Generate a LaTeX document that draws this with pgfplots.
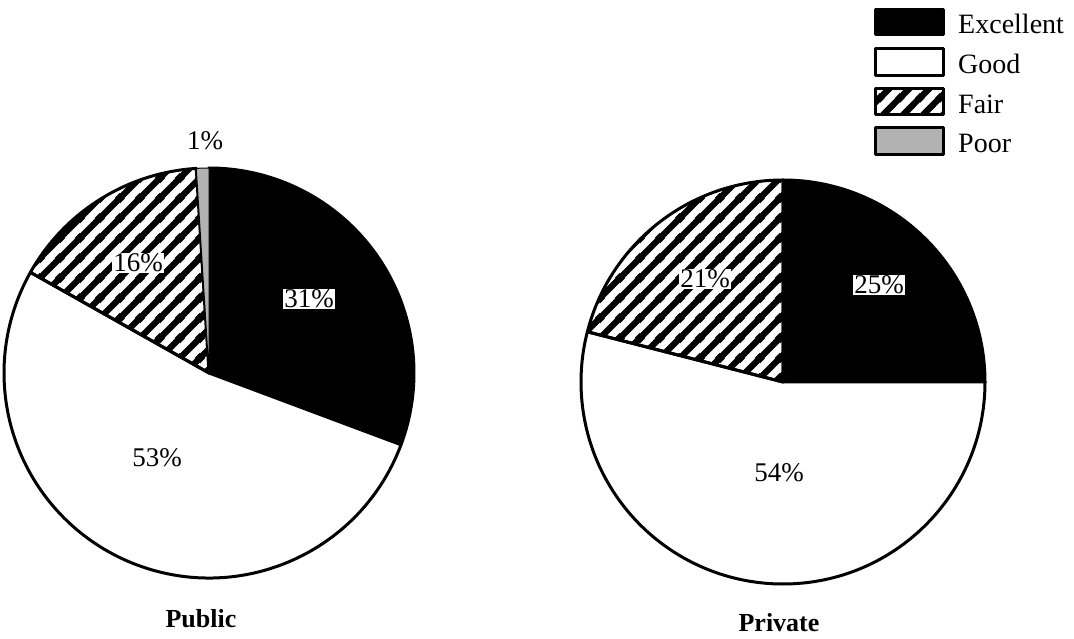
\documentclass[border=0pt]{standalone}
\usepackage{pgfplots}
\pgfplotsset{compat=1.18}
\usepackage{fontspec}
\setmainfont{Liberation Serif}
\usetikzlibrary{patterns,patterns.meta}
\tikzdeclarepattern{
  name=bighatch,
  type=uncolored,
  bounding box={(0pt,0pt) and (20pt,20pt)},
  tile size={(20pt,20pt)},
  code={
    \pgfsetlinewidth{6.5pt}
    \pgfpathmoveto{\pgfqpoint{-3pt}{-3pt}}\pgfpathlineto{\pgfqpoint{23pt}{23pt}}
    \pgfpathmoveto{\pgfqpoint{-3pt}{17pt}}\pgfpathlineto{\pgfqpoint{3pt}{23pt}}
    \pgfpathmoveto{\pgfqpoint{17pt}{-3pt}}\pgfpathlineto{\pgfqpoint{23pt}{3pt}}
    \pgfusepath{stroke}
  }
}
\tikzset{
  exc/.style={fill=black,draw=black,line width=3pt,line join=round},
  good/.style={fill=white,draw=black,line width=3pt,line join=round},
  fair/.style={pattern=bighatch,pattern color=black,draw=black,line width=3pt,line join=round},
  poor/.style={fill=black!30,draw=black,line width=1pt,line join=round},
}
% #1 cx, #2 cy, #3 radius, #4 total, #5 list value/style
\newcommand{\piechart}[5]{%
  \gdef\cum{0}%
  \foreach \v/\s in {#5}{%
    \pgfmathsetmacro{\a}{90-(\cum/#4)*360}%
    \pgfmathsetmacro{\b}{90-((\cum+\v)/#4)*360}%
    \edef\temp{\noexpand\path[\s] (axis cs:#1,#2) -- ++(\a:#3pt) arc[start angle=\a, end angle=\b, radius=#3pt] -- cycle;}%
    \temp
    \pgfmathsetmacro{\c}{\cum+\v}\xdef\cum{\c}%
  }%
}
\begin{document}
\begin{tikzpicture}
\begin{axis}[x=1pt,y=1pt,xmin=0,xmax=1074,ymin=0,ymax=638,hide axis,clip=false]
\coordinate (LL) at (axis cs:0,0);
\coordinate (UR) at (axis cs:1074,638);
% Public: Excellent 31, Good 53, Fair 16, Poor 1
\piechart{209}{265}{205}{101}{31/exc,53/good,16/fair,1/poor}
% Private: Excellent 25, Good 54, Fair 21
\piechart{783}{256}{202}{100}{25/exc,54/good,21/fair}
\begin{scope}[font=\fontsize{27}{31}\selectfont]
\node at (axis cs:205,497) {1\%};
\node[fill=white,inner sep=1pt] at (axis cs:138,375) {16\%};
\node[fill=white,inner sep=1pt] at (axis cs:309,339) {31\%};
\node at (axis cs:157,180) {53\%};
\node[fill=white,inner sep=1pt] at (axis cs:705,359) {21\%};
\node[fill=white,inner sep=1pt] at (axis cs:879,353) {25\%};
\node at (axis cs:779,165) {54\%};
\node[font=\fontsize{26}{30}\selectfont\bfseries] at (axis cs:201,19) {Public};
\node[font=\fontsize{26}{30}\selectfont\bfseries] at (axis cs:779,15) {Private};
% legend
\path[exc] (axis cs:875,628) rectangle (axis cs:943,603);
\path[good] (axis cs:875,589) rectangle (axis cs:943,562);
\path[fair] (axis cs:875,549) rectangle (axis cs:943,523);
\path[poor,line width=3pt] (axis cs:875,510) rectangle (axis cs:943,483);
\begin{scope}[font=\fontsize{28}{32}\selectfont]
\node[anchor=west,inner sep=0pt] at (axis cs:958,614) {Excellent};
\node[anchor=west,inner sep=0pt] at (axis cs:958,574) {Good};
\node[anchor=west,inner sep=0pt] at (axis cs:958,534) {Fair};
\node[anchor=west,inner sep=0pt] at (axis cs:958,495) {Poor};
\end{scope}
\end{scope}
\end{axis}
\pgfresetboundingbox
\path[use as bounding box] (LL) rectangle (UR);
\end{tikzpicture}
\end{document}
